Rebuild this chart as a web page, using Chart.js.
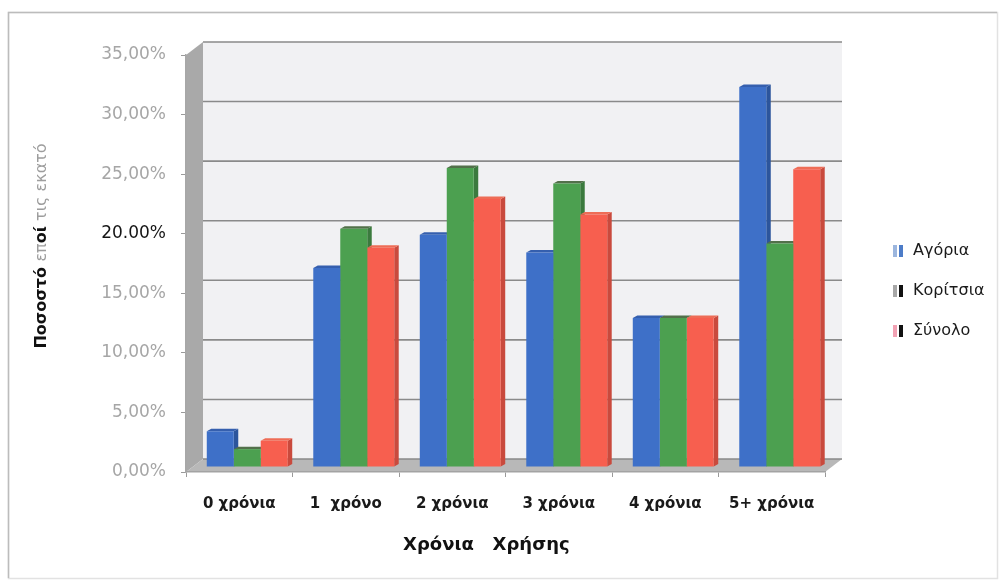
<!DOCTYPE html>
<html>
<head>
<meta charset="utf-8">
<script src="https://cdn.jsdelivr.net/npm/chart.js@4.4.1/dist/chart.umd.min.js"></script>
<style>
  html, body { margin: 0; padding: 0; background: #ffffff; }
  #wrap { width: 1005px; height: 582px; }
</style>
</head>
<body>
<div id="wrap"><canvas id="chart" width="1005" height="582"></canvas></div>
<script>
// Usage years per group, as percentages
const categories = ['0 χρόνια', '1  χρόνο', '2 χρόνια', '3 χρόνια', '4 χρόνια', '5+ χρόνια'];
const seriesNames = ['Αγόρια', 'Κορίτσια', 'Σύνολο'];
const boys  = [3.0, 16.7, 19.5, 18.0, 12.5, 31.9];
const girls = [1.5, 20.0, 25.1, 23.8, 12.5, 18.75];
const total = [2.2, 18.4, 22.5, 21.2, 12.5, 25.0];

// Value axis ticks and their printed labels
const yTicks = [0, 5, 10, 15, 20, 25, 30, 35];
const yTickLabels = ['0,00%', '5,00%', '10,00%', '15,00%', '20.00%', '25,00%', '30,00%', '35,00%'];

// Axis titles (the value-axis title mixes bold and light runs)
const yTitleParts = [['Ποσοστό ', true], ['επ', false], ['οί', true], [' τις εκατό', false]];
const xTitle = 'Χρόνια   Χρήσης';

const FONT = '"DejaVu Sans", sans-serif';

// Colours: front faces, right side faces, top faces, legend keys
const palette = {
  front: ['#3e70c8', '#4ca050', '#f75f4f'],
  side:  ['#2c559c', '#3b7a3e', '#c94a3d'],
  top:   ['#355fae', '#52704a', '#ee6c56'],
  keyLight: ['#9cb6de', '#a8a8a8', '#f2a2b4'],
  keyDark:  ['#4d7cc8', '#111111', '#111111']
};

// Pseudo-3D projection offsets (pixels)
const DEPTH = { wallX: 17, wallY: 13, barX: 8, barY: 5, faceX: 4.5, faceY: 2.5 };

// Layout targets
const PLOT_LEFT = 186, PLOT_TOP = 55, XAXIS_H = 110, PLOT_RIGHT = 825, LEGEND_LEFT = 869;
const LEGEND_FONT = 16, LEGEND_PAD = 24, LEGEND_BOX = 12;

// Small legend keys: a light sliver next to a dark bar
function legendKey(i) {
  const c = document.createElement('canvas');
  c.width = 12; c.height = 12;
  const g = c.getContext('2d');
  g.fillStyle = palette.keyLight[i]; g.fillRect(0, 0, 4, 12);
  g.fillStyle = palette.keyDark[i];  g.fillRect(6, 0, 4, 12);
  return c;
}
const legendKeys = seriesNames.map((_, i) => legendKey(i));

// Size the right padding so the legend sits where wanted
const measure = document.createElement('canvas').getContext('2d');
measure.font = LEGEND_FONT + 'px ' + FONT;
const maxLegendText = Math.max(...seriesNames.map(s => measure.measureText(s).width));
const legendWidth = LEGEND_PAD + LEGEND_BOX + LEGEND_FONT / 2 + maxLegendText + 10;
const padRight = Math.max(0, 1005 - LEGEND_LEFT - legendWidth);

function poly(ctx, pts, fill) {
  ctx.beginPath();
  ctx.moveTo(pts[0][0], pts[0][1]);
  for (let i = 1; i < pts.length; i++) ctx.lineTo(pts[i][0], pts[i][1]);
  ctx.closePath();
  ctx.fillStyle = fill;
  ctx.fill();
}

const depthPlugin = {
  id: 'depth',
  beforeDraw(chart) {
    const { ctx, chartArea: a, scales: { y } } = chart;
    const wx = DEPTH.wallX, wy = DEPTH.wallY;
    ctx.save();
    ctx.fillStyle = '#ffffff';
    ctx.fillRect(0, 0, chart.width, chart.height);
    // outer frame
    ctx.lineWidth = 1.5;
    ctx.strokeStyle = '#e2e2e2';
    ctx.strokeRect(8.5, 12.5, 989, 566);
    ctx.strokeStyle = '#bcbcbc';
    ctx.beginPath();
    ctx.moveTo(8.5, 578); ctx.lineTo(8.5, 12.5); ctx.lineTo(997, 12.5);
    ctx.stroke();
    // back wall
    ctx.fillStyle = '#f1f1f3';
    ctx.fillRect(a.left + wx, a.top - wy, a.width, a.height);
    // side wall
    poly(ctx, [[a.left, a.top], [a.left + wx, a.top - wy], [a.left + wx, a.bottom - wy], [a.left, a.bottom]], '#a9a9a9');
    // floor
    poly(ctx, [[a.left, a.bottom], [a.right, a.bottom], [a.right + wx, a.bottom - wy], [a.left + wx, a.bottom - wy]], '#b8b8b8');
    // gridlines on the back wall
    ctx.strokeStyle = '#8a8a8a';
    ctx.lineWidth = 1.6;
    y.ticks.forEach(t => {
      const py = y.getPixelForValue(t.value) - wy;
      ctx.beginPath();
      ctx.moveTo(a.left + wx, py);
      ctx.lineTo(a.right + wx, py);
      ctx.stroke();
    });
    ctx.restore();
  },
  beforeDatasetsDraw(chart) {
    const ctx = chart.ctx;
    ctx.save();
    ctx.translate(DEPTH.barX, -DEPTH.barY);
    const fx = DEPTH.faceX, fy = DEPTH.faceY;
    chart.data.datasets.forEach((ds, di) => {
      chart.getDatasetMeta(di).data.forEach(bar => {
        const { x, y, base, width } = bar.getProps(['x', 'y', 'base', 'width'], true);
        const x0 = x - width / 2, x1 = x + width / 2;
        poly(ctx, [[x1, y], [x1 + fx, y - fy], [x1 + fx, base - fy], [x1, base]], palette.side[di]);
        poly(ctx, [[x0, y], [x1, y], [x1 + fx, y - fy], [x0 + fx, y - fy]], palette.top[di]);
      });
    });
  },
  afterDatasetsDraw(chart) {
    chart.ctx.restore();
  },
  afterDraw(chart) {
    const { ctx, chartArea: a } = chart;
    ctx.save();
    // value-axis title, rotated
    ctx.translate(42, 246);
    ctx.rotate(-Math.PI / 2);
    ctx.textBaseline = 'middle';
    ctx.textAlign = 'left';
    const fonts = yTitleParts.map(p => (p[1] ? 'bold ' : '') + '16px ' + FONT);
    const widths = yTitleParts.map((p, i) => { ctx.font = fonts[i]; return ctx.measureText(p[0]).width; });
    let x = -widths.reduce((s, w) => s + w, 0) / 2;
    yTitleParts.forEach((p, i) => {
      ctx.font = fonts[i];
      ctx.fillStyle = p[1] ? '#111111' : '#9d9d9d';
      ctx.fillText(p[0], x, 0);
      x += widths[i];
    });
    ctx.restore();
    // category-axis title
    ctx.save();
    ctx.font = 'bold 18px ' + FONT;
    ctx.fillStyle = '#111111';
    ctx.textAlign = 'center';
    ctx.textBaseline = 'middle';
    ctx.fillText(xTitle, a.left + a.width * 0.47, 545);
    ctx.restore();
  }
};

const seriesData = [boys, girls, total];

new Chart(document.getElementById('chart'), {
  type: 'bar',
  data: {
    labels: categories,
    datasets: seriesNames.map((name, i) => ({
      label: name,
      data: seriesData[i],
      backgroundColor: palette.front[i],
      borderWidth: 0,
      categoryPercentage: 0.76,
      barPercentage: 1.0,
      clip: false
    }))
  },
  options: {
    responsive: false,
    animation: false,
    events: [],
    layout: { padding: { left: 0, top: 0, bottom: 0, right: padRight } },
    plugins: {
      tooltip: { enabled: false },
      legend: {
        position: 'right',
        align: 'center',
        labels: {
          usePointStyle: true,
          boxWidth: LEGEND_BOX,
          boxHeight: LEGEND_BOX,
          padding: LEGEND_PAD,
          color: '#1a1a1a',
          font: { family: FONT, size: LEGEND_FONT },
          generateLabels: chart => chart.data.datasets.map((ds, i) => ({
            text: ds.label,
            fillStyle: ds.backgroundColor,
            strokeStyle: ds.backgroundColor,
            lineWidth: 0,
            pointStyle: legendKeys[i],
            hidden: false,
            datasetIndex: i,
            fontColor: '#1a1a1a'
          }))
        }
      }
    },
    scales: {
      x: {
        type: 'category',
        position: 'bottom',
        grid: { offset: true, drawOnChartArea: false, drawTicks: true, tickLength: 5, color: '#9a9a9a' },
        border: { display: true, color: '#a3a3a3', width: 1.5 },
        ticks: { color: '#1a1a1a', font: { family: FONT, size: 15, weight: 'bold' }, padding: 18, maxRotation: 0, autoSkip: false },
        afterFit: s => { s.height = XAXIS_H; }
      },
      y: {
        min: yTicks[0],
        max: yTicks[yTicks.length - 1],
        ticks: {
          stepSize: 5,
          padding: 15,
          font: { family: FONT, size: 17 },
          color: c => (c.tick && c.tick.value === 20 ? '#151515' : '#a6a6a6'),
          callback: v => yTickLabels[yTicks.indexOf(v)]
        },
        grid: { drawOnChartArea: false, drawTicks: true, tickLength: 5, color: '#9a9a9a' },
        border: { display: true, color: '#a7a7a7', width: 1.5 },
        afterFit: s => { s.width = PLOT_LEFT; }
      },
      topSpace: {
        axis: 'x', type: 'linear', position: 'top',
        grid: { display: false }, border: { display: false }, ticks: { display: false },
        afterFit: s => { s.height = PLOT_TOP; }
      },
      rightSpace: {
        axis: 'y', type: 'linear', position: 'right',
        grid: { display: false }, border: { display: false }, ticks: { display: false },
        afterFit: s => { s.width = LEGEND_LEFT - PLOT_RIGHT; }
      }
    }
  },
  plugins: [depthPlugin]
});
</script>
</body>
</html>
